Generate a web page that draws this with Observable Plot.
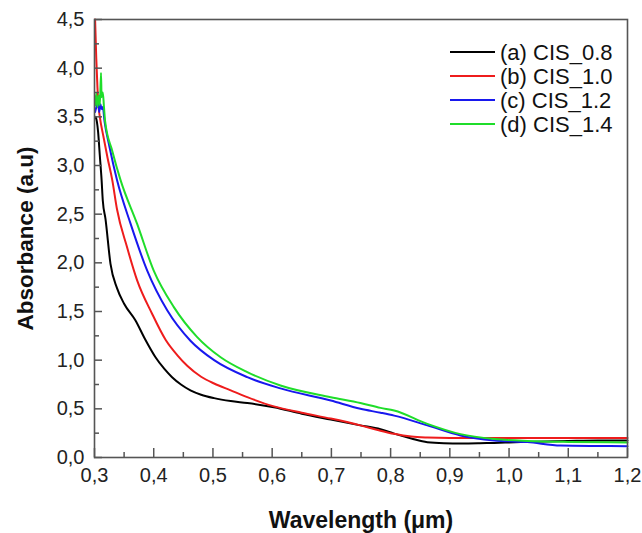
<!DOCTYPE html>
<html>
<head>
<meta charset="utf-8">
<script src="https://cdn.jsdelivr.net/npm/d3@7"></script>
<script src="https://cdn.jsdelivr.net/npm/@observablehq/plot@0.6"></script>
<style>
  html, body { margin: 0; padding: 0; background: #fff; }
  #chart { position: relative; width: 642px; height: 533px; }
</style>
</head>
<body>
<div id="chart"></div>
<script>
const seriesNames = ["(a) CIS_0.8", "(b) CIS_1.0", "(c) CIS_1.2", "(d) CIS_1.4"];
const seriesColors = ["#000000", "#ee1c1c", "#1818ee", "#1fdd2a"];

const xA = [0.302,0.304,0.306,0.309,0.312,0.314,0.3186,0.327,0.338,0.350,0.369,0.385,0.403,0.418,0.431,0.446,0.462,0.48,0.502,0.53,0.558,0.603,0.65,0.699,0.749,0.783,0.806,0.835,0.862,0.89,0.92,0.95,0.975,1.0,1.03,1.06,1.1,1.15,1.2];
const yA = [3.50,3.45,3.35,3.10,2.85,2.64,2.45,1.99,1.74,1.58,1.41,1.22,1.03,0.91,0.825,0.75,0.69,0.645,0.61,0.58,0.56,0.517,0.45,0.39,0.33,0.29,0.245,0.195,0.157,0.147,0.145,0.147,0.15,0.155,0.16,0.165,0.17,0.175,0.175];

const xB = [0.301,0.303,0.305,0.307,0.309,0.315,0.322,0.330,0.338,0.355,0.372,0.397,0.420,0.44,0.457,0.48,0.502,0.53,0.558,0.603,0.65,0.699,0.749,0.78,0.806,0.835,0.862,0.9,0.95,1.0,1.05,1.1,1.15,1.2];
const yB = [4.5,4.1,3.8,3.6,3.5,3.3,3.08,2.85,2.55,2.16,1.82,1.48,1.21,1.05,0.94,0.83,0.76,0.69,0.62,0.525,0.46,0.40,0.33,0.28,0.243,0.215,0.205,0.2,0.2,0.2,0.2,0.2,0.2,0.2];

const xC = [0.301,0.304,0.306,0.308,0.310,0.312,0.314,0.317,0.325,0.338,0.361,0.389,0.423,0.462,0.502,0.558,0.614,0.699,0.749,0.783,0.806,0.862,0.918,0.975,1.031,1.087,1.15,1.2];
const yC = [3.55,3.62,3.66,3.55,3.63,3.58,3.6,3.45,3.2,2.85,2.40,1.92,1.51,1.20,1.00,0.825,0.71,0.585,0.50,0.46,0.43,0.33,0.226,0.175,0.158,0.123,0.118,0.116];

const xD = [0.301,0.303,0.305,0.307,0.309,0.311,0.312,0.314,0.316,0.318,0.330,0.344,0.372,0.400,0.434,0.473,0.513,0.558,0.614,0.699,0.749,0.783,0.806,0.862,0.918,0.975,1.031,1.1,1.2];
const yD = [3.62,3.74,3.6,3.72,3.62,3.95,3.7,3.75,3.6,3.45,3.15,2.85,2.40,1.92,1.545,1.24,1.03,0.877,0.74,0.62,0.56,0.51,0.483,0.346,0.24,0.19,0.17,0.16,0.155];

const xMajor = [0.3,0.4,0.5,0.6,0.7,0.8,0.9,1.0,1.1,1.2];
const xMinor = [0.35,0.45,0.55,0.65,0.75,0.85,0.95,1.05,1.15];
const yMajor = [0,0.5,1.0,1.5,2.0,2.5,3.0,3.5,4.0,4.5];
const yMinor = [0.25,0.75,1.25,1.75,2.25,2.75,3.25,3.75,4.25];
const xTitle = "Wavelength (\u03bcm)";
const yTitle = "Absorbance (a.u)";

const xs = [xA, xB, xC, xD];
const ys = [yA, yB, yC, yD];
const rows = [];
seriesNames.forEach((name, i) => xs[i].forEach((x, j) => rows.push({series: name, x, y: ys[i][j]})));

const fmt = d => d.toFixed(1).replace(".", ",");
const W = 642, H = 533, mL = 94, mR = 15, mT = 19, mB = 76;
const pxX = 0.9 / (W - mL - mR);   // data units per px
const pxY = 4.5 / (H - mT - mB);

const chart = Plot.plot({
  width: W, height: H,
  marginLeft: mL, marginRight: mR, marginTop: mT, marginBottom: mB,
  style: {fontFamily: "'Liberation Sans', Arial, sans-serif", fontSize: "20px", color: "#222", background: "#fff"},
  x: {domain: [0.3, 1.2]},
  y: {domain: [0, 4.5]},
  color: {domain: seriesNames, range: seriesColors},
  marks: [
    Plot.line(rows, {x: "x", y: "y", z: "series", stroke: "series", strokeWidth: 2, curve: "monotone-x"}),
    Plot.ruleX(xMajor, {x: d => d, y1: 0, y2: 9 * pxY, stroke: "#555", strokeWidth: 1.5}),
    Plot.ruleX(xMinor, {x: d => d, y1: 0, y2: 5 * pxY, stroke: "#555", strokeWidth: 1.5}),
    Plot.ruleY(yMajor, {y: d => d, x1: 0.3, x2: 0.3 + 8 * pxX, stroke: "#555", strokeWidth: 1.5}),
    Plot.ruleY(yMinor, {y: d => d, x1: 0.3, x2: 0.3 + 5 * pxX, stroke: "#555", strokeWidth: 1.5}),
    Plot.frame({stroke: "#555", strokeWidth: 1.6}),
    Plot.axisX(xMajor, {tickSize: 0, tickPadding: 10, tickFormat: fmt, label: null, fontSize: 20}),
    Plot.axisY(yMajor, {tickSize: 0, tickPadding: 10, tickFormat: fmt, label: null, fontSize: 20}),
    Plot.text([xTitle], {frameAnchor: "bottom", dy: 70, textAnchor: "middle", fontWeight: "bold", fontSize: 23, fill: "#111"}),
    Plot.text([yTitle], {frameAnchor: "left", dx: -69, textAnchor: "middle", rotate: -90, fontWeight: "bold", fontSize: 22.5, fill: "#111"})
  ]
});

const svg = d3.select(chart);
svg.selectAll('g[aria-label$="tick label"]').attr("font-size", 20).style("font-size", "20px");
svg.selectAll('g[aria-label$="tick label"] text').style("font-size", "20px");

const leg = svg.append("g")
  .attr("font-family", "'Liberation Sans', Arial, sans-serif")
  .attr("font-size", 22)
  .attr("text-anchor", "start");
seriesNames.forEach((name, i) => {
  const cy = 52 + 24 * i;
  leg.append("line").attr("x1", 450).attr("x2", 495).attr("y1", cy).attr("y2", cy)
    .attr("stroke", seriesColors[i]).attr("stroke-width", 2.2);
  leg.append("text").attr("x", 500).attr("y", cy).attr("dy", "0.35em")
    .attr("text-anchor", "start").attr("fill", "#111").text(name);
});

document.getElementById("chart").appendChild(chart);
</script>
</body>
</html>
